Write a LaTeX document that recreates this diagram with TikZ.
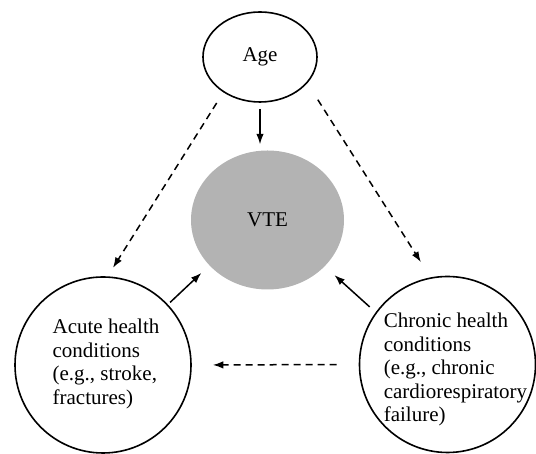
\documentclass[tikz,border=0pt]{standalone}
\usepackage{fontspec}
\setmainfont{Liberation Serif}
\usepackage{tikz}
\usetikzlibrary{
  arrows.meta,%
  shapes.geometric,%
  positioning
}
\tikzset{>={Latex[length=10.5pt,width=7.5pt]}}
\tikzset{font=\fontsize{21}{23.5}\selectfont}
\definecolor{vtegray}{RGB}{179, 179, 179}
\tikzset{factor/.style={draw, ellipse, line width=1.6pt, inner sep=0pt},
  riskcircle/.style={draw, circle, line width=1.6pt, inner sep=0pt, minimum size=176pt},
  link/.style={->, line width=1.5pt},
  dashlink/.style={->, line width=1.5pt, dash pattern=on 7pt off 5pt}}

\begin{document}
\begin{tikzpicture}[x=1pt, y=1pt]
  \useasboundingbox (0, 0) rectangle (536, 454);
  \node[factor, minimum width=114pt, minimum height=90pt] (age) at (260, 397) {Age};
  \node[ellipse, fill=vtegray, minimum width=153pt, minimum height=139pt, inner sep=0pt] (vte) at (267.5, 234) {VTE};
  \node[riskcircle, label={[align=left, xshift=3pt, yshift=1pt]center:Acute health\\conditions\\(e.g., stroke,\\fractures)}] (acute) at (103, 89) {};
  \node[riskcircle, label={[align=left, xshift=8pt, yshift=-5pt]center:Chronic health\\conditions\\(e.g., chronic\\cardiorespiratory\\failure)}] (chronic) at (447.5, 89.5) {};
  % causal links
  \draw[link, shorten <=6pt, shorten >=6pt] (age.south) -- (age.south |- vte.north);
  \draw[dashlink, shorten <=12.5pt, shorten >=10pt] (age.224) -- (acute.87);
  \draw[dashlink, shorten <=19.5pt, shorten >=18pt] (age.331) -- (chronic.101);
  \draw[link, shorten <=3pt, shorten >=11pt] (acute.43) -- (vte.218);
  \draw[link, shorten <=8pt, shorten >=13pt] (chronic.144) -- (vte.321);
  \draw[dashlink, shorten <=22pt, shorten >=21pt] (chronic.west) -- (acute.east);
\end{tikzpicture}
\end{document}
